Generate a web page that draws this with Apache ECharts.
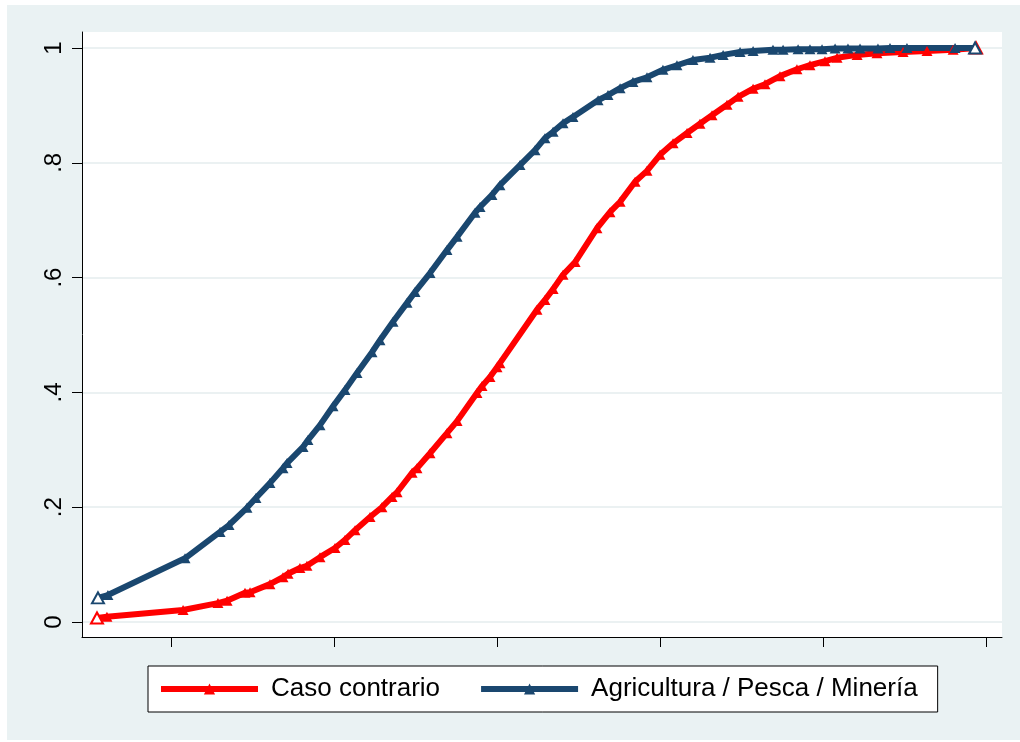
<!DOCTYPE html>
<html lang="es" style="height: 100%">
<head>
  <meta charset="utf-8">
</head>
<body style="height: 100%; margin: 0; background: #fff">
<div id="container" style="position: absolute; left: 7px; top: 5px; width: 1013px; height: 735px"></div>

<script type="text/javascript" src="https://cdn.jsdelivr.net/npm/echarts@6/dist/echarts.min.js"></script>
<script type="text/javascript">
  // nombres de las series y marcas de los ejes
  var seriesNames = ['Caso contrario', 'Agricultura / Pesca / Minería'];
  var xTicks = [1, 2, 3, 4, 5, 6];
  var yTicks = [0, 0.2, 0.4, 0.6, 0.8, 1];
  var yTickLabels = ['0', '.2', '.4', '.6', '.8', '1'];

  // Caso contrario (rojo)
  var casoX = [0.546, 0.607, 1.074, 1.288, 1.344, 1.454, 1.485, 1.607, 1.687, 1.718,
    1.791, 1.834, 1.914, 2.006, 2.067, 2.129, 2.221, 2.294, 2.356, 2.387,
    2.479, 2.509, 2.589, 2.693, 2.755, 2.877, 2.908, 2.957, 3.000, 3.018,
    3.245, 3.294, 3.344, 3.405, 3.479, 3.613, 3.693, 3.755, 3.847, 3.920,
    4.000, 4.080, 4.166, 4.245, 4.319, 4.411, 4.479, 4.571, 4.644, 4.736,
    4.840, 4.920, 5.012, 5.086, 5.209, 5.331, 5.491, 5.638, 5.798, 5.939];
  var casoY = [0.007, 0.009, 0.021, 0.033, 0.037, 0.051, 0.052, 0.066, 0.078, 0.084,
    0.094, 0.098, 0.113, 0.129, 0.143, 0.160, 0.183, 0.200, 0.218, 0.226,
    0.260, 0.268, 0.294, 0.329, 0.350, 0.399, 0.411, 0.427, 0.444, 0.451,
    0.544, 0.561, 0.580, 0.605, 0.627, 0.686, 0.714, 0.732, 0.767, 0.786,
    0.814, 0.834, 0.852, 0.868, 0.883, 0.901, 0.915, 0.929, 0.937, 0.951,
    0.963, 0.970, 0.977, 0.983, 0.988, 0.991, 0.993, 0.995, 0.997, 1.000];

  // Agricultura / Pesca / Minería (azul)
  var agriX = [0.552, 0.613, 1.086, 1.301, 1.356, 1.466, 1.521, 1.607, 1.687, 1.712,
    1.810, 1.840, 1.914, 1.994, 2.067, 2.141, 2.233, 2.282, 2.362, 2.448,
    2.497, 2.589, 2.693, 2.755, 2.865, 2.896, 2.969, 3.018, 3.141, 3.233,
    3.294, 3.344, 3.405, 3.466, 3.620, 3.681, 3.755, 3.834, 3.920, 4.018,
    4.104, 4.202, 4.307, 4.387, 4.491, 4.571, 4.693, 4.755, 4.847, 4.920,
    4.994, 5.074, 5.153, 5.227, 5.337, 5.411, 5.515, 5.810, 5.933];
  var agriY = [0.042, 0.047, 0.111, 0.157, 0.169, 0.199, 0.216, 0.242, 0.268, 0.277,
    0.305, 0.317, 0.343, 0.376, 0.404, 0.434, 0.470, 0.491, 0.523, 0.556,
    0.575, 0.608, 0.648, 0.671, 0.713, 0.723, 0.744, 0.761, 0.796, 0.822,
    0.843, 0.854, 0.869, 0.880, 0.909, 0.918, 0.930, 0.941, 0.949, 0.962,
    0.970, 0.979, 0.983, 0.988, 0.993, 0.995, 0.997, 0.997, 0.998, 0.998,
    0.998, 0.999, 0.999, 0.999, 0.999, 1.000, 1.000, 1.000, 1.000];

  var colors = ['#FF0000', '#1A476F'];
  var fontFamily = 'Liberation Sans, Arial, sans-serif';

  // puntos; el primero y el último con triángulo hueco
  function toPoints(xs, ys, color) {
    return xs.map(function (x, i) {
      var p = { value: [x, ys[i]] };
      if (i === 0 || i === xs.length - 1) {
        p.symbol = 'emptyTriangle';
        p.symbolSize = [12, 11];
        p.itemStyle = { borderWidth: 2, borderColor: color };
      }
      return p;
    });
  }

  function lineSeries(name, xs, ys, color) {
    return {
      name: name,
      type: 'line',
      data: toPoints(xs, ys, color),
      symbol: 'triangle',
      symbolSize: [11, 10],
      showAllSymbol: true,
      lineStyle: { width: 6, color: color },
      itemStyle: { color: color, borderWidth: 0 },
      emphasis: { disabled: true }
    };
  }

  var dom = document.getElementById('container');
  var myChart = echarts.init(dom, null, { renderer: 'canvas' });

  var option = {
    animation: false,
    backgroundColor: '#EAF2F3',
    textStyle: { fontFamily: fontFamily },
    grid: {
      left: 75,
      top: 27,
      right: 18,
      bottom: 103,
      show: true,
      backgroundColor: '#fff',
      borderWidth: 0
    },
    legend: {
      data: seriesNames,
      left: 141,
      top: 661,
      orient: 'horizontal',
      padding: [10, 20, 10, 10],
      itemGap: 38,
      itemWidth: 97,
      itemHeight: 14,
      selectedMode: false,
      backgroundColor: '#fff',
      borderColor: '#000',
      borderWidth: 1,
      borderRadius: 0,
      lineStyle: { width: 6 },
      textStyle: {
        fontFamily: fontFamily,
        fontSize: 26,
        color: '#000',
        padding: [0, 0, 0, 8]
      }
    },
    xAxis: {
      type: 'value',
      min: 0.454,
      max: 6.098,
      axisLine: { show: true, onZero: false, lineStyle: { color: '#000', width: 1 } },
      axisTick: { show: true, length: 10, customValues: xTicks, lineStyle: { color: '#000' } },
      axisLabel: { show: false },
      splitLine: { show: false }
    },
    yAxis: {
      type: 'value',
      min: -0.0261,
      max: 1.0279,
      axisLine: { show: true, onZero: false, lineStyle: { color: '#000', width: 1 } },
      axisTick: { show: true, length: 10, customValues: yTicks, lineStyle: { color: '#000' } },
      axisLabel: {
        customValues: yTicks,
        rotate: 90,
        margin: 16,
        fontSize: 24,
        color: '#000',
        fontFamily: fontFamily,
        formatter: function (v) {
          return yTickLabels[Math.round(v / 0.2)];
        }
      },
      splitLine: { show: true, lineStyle: { color: '#E4EDEE', width: 1.5 } }
    },
    series: [
      lineSeries(seriesNames[0], casoX, casoY, colors[0]),
      lineSeries(seriesNames[1], agriX, agriY, colors[1])
    ]
  };

  myChart.setOption(option);
  window.addEventListener('resize', myChart.resize);
</script>
</body>
</html>
